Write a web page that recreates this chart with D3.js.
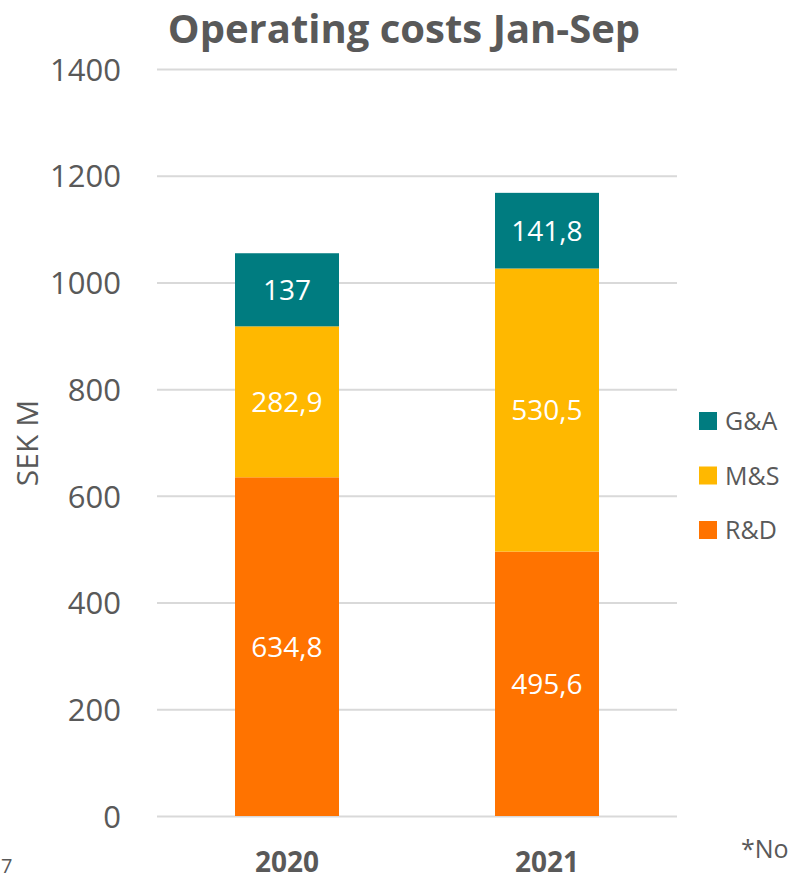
<!DOCTYPE html>
<html>
<head>
<meta charset="utf-8">
<script src="https://cdn.jsdelivr.net/npm/d3@7"></script>
<style>
  body { margin: 0; background: #fff; }
  svg { display: block; }
  svg text { font-family: "Open Sans", sans-serif; }
</style>
</head>
<body>
<svg id="chart"></svg>
<script>
// DATA
const years = ["2020", "2021"];
const series = ["R&D", "M&S", "G&A"];
const rdValues = [634.8, 495.6];
const msValues = [282.9, 530.5];
const gaValues = [137, 141.8];
const valueLabels = {
  "R&D": ["634,8", "495,6"],
  "M&S": ["282,9", "530,5"],
  "G&A": ["137", "141,8"]
};
const yTicks = [0, 200, 400, 600, 800, 1000, 1200, 1400];
const colors = { "R&D": "#FF7300", "M&S": "#FFB800", "G&A": "#007C80" };

const svgWidth = 790, svgHeight = 879;
const margin = { top: 69, right: 113, bottom: 63, left: 157 };
const width = svgWidth - margin.left - margin.right;
const height = svgHeight - margin.top - margin.bottom;
const textColor = "#595959";

let svg = d3.select("#chart")
  .attr("width", svgWidth)
  .attr("height", svgHeight);

let g = svg.append("g")
  .attr("transform", "translate(" + margin.left + "," + margin.top + ")");

// build rows for stacking
let rows = years.map(function(y, i) {
  return { year: y, "R&D": rdValues[i], "M&S": msValues[i], "G&A": gaValues[i], idx: i };
});
let stacked = d3.stack().keys(series)(rows);

let x = d3.scaleBand().domain(years).range([0, width]).paddingInner(0.6).paddingOuter(0.3);
let y = d3.scaleLinear().domain([0, 1400]).range([height, 0]);

//GRIDLINES
g.append("g")
  .attr("class", "grid")
  .call(d3.axisLeft(y).tickValues(yTicks).tickSize(-width).tickFormat(""))
  .call(function(s) { s.select(".domain").remove(); })
  .selectAll("line")
  .attr("stroke", "#D9D9D9")
  .attr("stroke-width", 2);

//Y AXIS LABELS
g.append("g")
  .call(d3.axisLeft(y).tickValues(yTicks).tickSize(0).tickPadding(36).tickFormat(d3.format("d")))
  .call(function(s) { s.select(".domain").remove(); })
  .attr("font-family", null)
  .selectAll("text")
  .attr("fill", textColor)
  .style("font-size", "31px")
  .attr("dy", "0.36em");

//BARS
let layer = g.selectAll(".layer")
  .data(stacked)
  .enter()
  .append("g")
  .attr("fill", function(d) { return colors[d.key]; });

layer.selectAll("rect")
  .data(function(d) { return d; })
  .enter()
  .append("rect")
  .attr("x", function(d) { return x(d.data.year); })
  .attr("y", function(d) { return y(d[1]); })
  .attr("width", x.bandwidth())
  .attr("height", function(d) { return y(d[0]) - y(d[1]); });

//VALUE LABELS
stacked.forEach(function(s) {
  g.selectAll(".lbl-" + s.index)
    .data(s)
    .enter()
    .append("text")
    .attr("x", function(d) { return x(d.data.year) + x.bandwidth() / 2; })
    .attr("y", function(d) { return (y(d[0]) + y(d[1])) / 2; })
    .attr("dy", "0.36em")
    .attr("text-anchor", "middle")
    .attr("fill", "#fff")
    .style("font-size", "28px")
    .text(function(d) { return valueLabels[s.key][d.data.idx]; });
});

//X AXIS LABELS
g.append("g")
  .attr("transform", "translate(0," + height + ")")
  .call(d3.axisBottom(x).tickSize(0).tickPadding(36))
  .call(function(s) { s.select(".domain").remove(); })
  .attr("font-family", null)
  .selectAll("text")
  .attr("fill", textColor)
  .style("font-size", "28px")
  .style("font-weight", "bold");

//TITLE
svg.append("text")
  .attr("x", 404)
  .attr("y", 43)
  .attr("text-anchor", "middle")
  .attr("fill", textColor)
  .style("font-size", "40px")
  .style("font-weight", "bold")
  .text("Operating costs Jan-Sep");

//AXIS TITLE
svg.append("text")
  .attr("transform", "translate(38,443) rotate(-90)")
  .attr("text-anchor", "middle")
  .attr("fill", textColor)
  .style("font-size", "30px")
  .text("SEK M");

//LEGEND
let legendItems = ["G&A", "M&S", "R&D"];
let legend = svg.append("g").attr("transform", "translate(699,421)");
legendItems.forEach(function(k, i) {
  let row = legend.append("g").attr("transform", "translate(0," + i * 54.5 + ")");
  row.append("rect")
    .attr("x", 0).attr("y", -9)
    .attr("width", 18).attr("height", 18)
    .attr("fill", colors[k]);
  row.append("text")
    .attr("x", 26)
    .attr("dy", "0.36em")
    .attr("fill", textColor)
    .style("font-size", "25px")
    .text(k);
});

//EXTRA TEXT FRAGMENTS
svg.append("text")
  .attr("x", 741).attr("y", 858)
  .attr("fill", textColor)
  .style("font-size", "25px")
  .text("*No");
svg.append("text")
  .attr("x", 1).attr("y", 873)
  .attr("fill", textColor)
  .style("font-size", "20px")
  .text("7");
</script>
</body>
</html>
